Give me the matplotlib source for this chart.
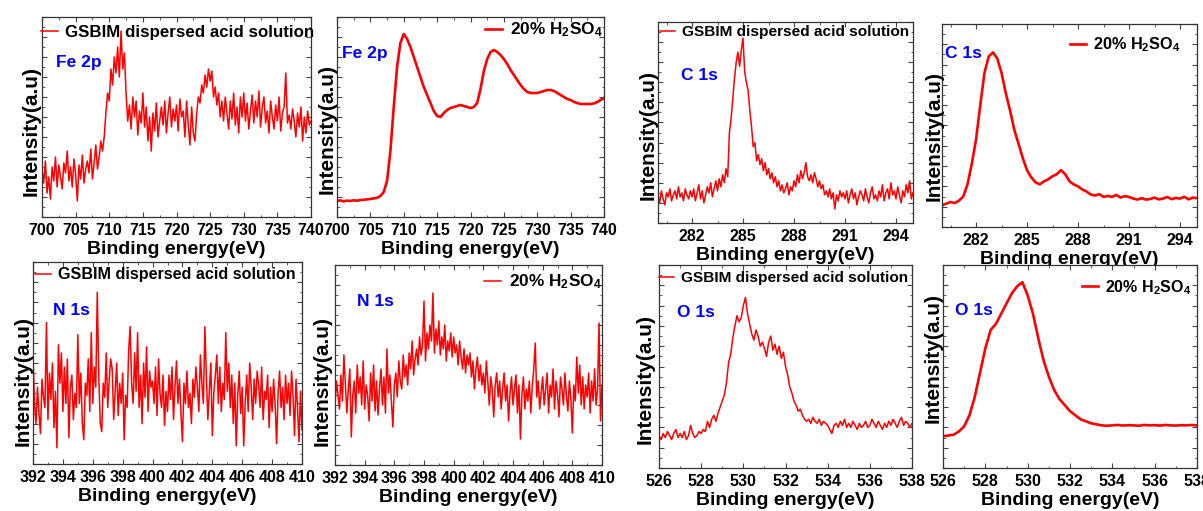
import matplotlib.pyplot as plt
import numpy as np
from matplotlib.ticker import MultipleLocator, NullFormatter

plt.rcParams['font.family'] = ['Liberation Sans', 'DejaVu Sans']
plt.rcParams['font.weight'] = 'bold'
plt.rcParams['mathtext.fontset'] = 'custom'
plt.rcParams['mathtext.rm'] = 'Liberation Sans:bold'
plt.rcParams['mathtext.it'] = 'Liberation Sans:bold'
plt.rcParams['mathtext.bf'] = 'Liberation Sans:bold'

# Fe 2p, GSBIM dispersed acid solution (0.25 eV steps, 700-740)
fe_gsbim = [24, 17, 28, 12, 20, 9, 25, 18, 30, 15, 26, 20, 14, 27, 22, 33,
            18, 25, 15, 29, 21, 8, 26, 19, 31, 17, 24, 28, 22, 34, 19, 27,
            36, 24, 30, 38, 33, 40, 52, 62, 58, 74, 66, 80, 72, 85, 70, 93,
            74, 82, 62, 48, 56, 44, 60, 50, 58, 41, 53, 47, 62, 45, 55, 38,
            50, 33, 52, 43, 57, 40, 48, 55, 46, 58, 42, 52, 60, 45, 54, 48,
            56, 43, 59, 50, 53, 40, 58, 46, 36, 55, 42, 38, 52, 60, 57, 66,
            62, 71, 65, 74, 68, 73, 60, 65, 56, 62, 50, 58, 48, 60, 52, 44,
            58, 49, 62, 46, 55, 42, 60, 50, 62, 48, 57, 44, 53, 61, 47, 58,
            50, 63, 45, 55, 60, 47, 53, 42, 58, 50, 44, 56, 48, 60, 43, 52,
            55, 72, 47, 51, 44, 54, 48, 40, 52, 45, 55, 38, 50, 42, 53, 46, 48]

# Fe 2p, 20% H2SO4 (0.5 eV steps, 700-740)
fe_acid = [8.0, 8.3, 7.8, 8.2, 8.0, 8.4, 8.1, 8.5, 8.6, 8.8, 9.0, 9.3, 9.6, 10.5,
           12.5, 18, 33, 55, 75, 87, 91.5, 89, 85, 80, 75, 70, 65, 61, 57, 53,
           50.5, 50, 52, 53.5, 54.5, 55, 55.5, 56, 55.5, 55, 54.5, 55, 57, 64,
           73, 79, 82.5, 83.5, 82.5, 81, 79, 76.5, 73.5, 71, 68.5, 66, 64, 62.5,
           62, 62, 62, 62.5, 63, 63.5, 63.5, 63, 62, 61, 60, 59, 58.5, 57.5,
           57, 56.5, 56.5, 56.5, 56.5, 56.8, 57.5, 58.5, 59.5]

# C 1s, GSBIM (0.1 eV steps, 280-295)
c_gsbim = [14, 10, 16, 12, 9, 15, 13, 17, 11, 14,
           16, 12, 18, 13, 15, 11, 17, 14, 12, 16,
           13, 17, 11, 15, 19, 12, 16, 10, 14, 18,
           15, 20, 13, 17, 21, 16, 22, 18, 24, 20,
           27, 23, 45, 52, 62, 72, 80, 85, 78, 86,
           92, 75, 70, 66, 56, 48, 38, 40, 31, 34,
           29, 32, 26, 30, 24, 27, 22, 25, 20, 23,
           18, 21, 16, 19, 15, 17, 20, 14, 18, 16,
           21, 18, 24, 20, 26, 22, 25, 30, 23, 21,
           24, 20, 25, 22, 18, 21, 17, 19, 14, 16,
           13, 17, 12, 15, 7, 14, 11, 16, 13, 15,
           12, 16, 10, 14, 17, 12, 15, 9, 13, 16,
           14, 11, 17, 13, 10, 15, 18, 12, 14, 11,
           16, 13, 19, 11, 15, 17, 12, 20, 14, 16,
           12, 18, 14, 10, 16, 13, 19, 15, 21, 12, 15]

# C 1s, 20% H2SO4 (0.25 eV steps, 280-295)
c_acid = [10.7, 11.5, 12.3, 11.8, 13, 15, 21, 31, 43, 60, 76, 84, 86, 83, 76,
          66, 57.5, 48, 41, 34, 28, 24.5, 22, 21, 22.5, 23.5, 25, 26, 28, 26,
          22.5, 21, 20, 18.5, 17.5, 16, 15.5, 16.2, 14.8, 15.3, 14.8, 15.8,
          14.5, 15.2, 14.8, 14, 13.5, 14.2, 13.5, 13.8, 14.5, 13.6, 14, 14.8,
          13.7, 14.3, 14, 14.9, 13.6, 14.5, 14.2]

# N 1s, GSBIM (0.1 eV steps, 392-410)
n_gsbim = [54, 30, 20, 38, 25, 15, 42, 33, 28, 70,
           22, 45, 32, 50, 18, 36, 8, 59, 40, 55,
           26, 48, 30, 52, 13, 38, 44, 22, 35, 28,
           64, 30, 45, 20, 12, 40, 34, 52, 26, 65,
           30, 48, 38, 85, 44, 20, 16, 40, 33, 55,
           28, 42, 52, 47, 22, 36, 50, 24, 40, 30,
           45, 12, 34, 28, 56, 68, 40, 30, 55, 36,
           65, 28, 44, 20, 50, 33, 58, 26, 46, 38,
           41, 30, 48, 24, 52, 35, 28, 44, 19, 36,
           26, 44, 32, 48, 22, 38, 51, 30, 42, 25,
           11, 40, 30, 46, 28, 35, 20, 42, 33, 48,
           38, 26, 54, 40, 30, 68, 44, 22, 36, 50,
           14, 35, 44, 54, 30, 48, 26, 40, 32, 65,
           36, 50, 28, 44, 20, 40, 9, 34, 46, 25,
           38, 9, 30, 44, 26, 50, 38, 22, 42, 30,
           46, 39, 28, 48, 22, 36, 32, 44, 18, 38,
           26, 42, 30, 10, 35, 46, 28, 38, 22, 44,
           30, 40, 24, 46, 34, 14, 42, 28, 11, 36, 17]

# N 1s, 20% H2SO4 (0.1 eV steps, 392-410)
n_acid = [30, 42, 35, 28, 45, 32, 55, 40, 26, 38,
          48, 14, 35, 42, 26, 50, 36, 44, 30, 52,
          28, 40, 35, 22, 46, 32, 50, 27, 42, 25,
          38, 48, 30, 44, 26, 58, 36, 45, 32, 19,
          40, 46, 34, 52, 42, 38, 55, 44, 50, 40,
          56, 48, 62, 45, 53, 58, 50, 64, 55, 60,
          82, 52, 66, 58, 70, 62, 86, 56, 68, 60,
          72, 55, 64, 58, 70, 52, 62, 57, 66, 54,
          64, 56, 60, 50, 62, 54, 48, 58, 46, 55,
          50, 56, 44, 52, 38, 48, 54, 42, 50, 40,
          46, 36, 52, 42, 30, 44, 38, 24, 40, 46,
          34, 42, 28, 38, 46, 32, 40, 22, 36, 44,
          30, 38, 45, 26, 40, 13, 35, 44, 28, 38,
          32, 42, 26, 40, 48, 61, 34, 42, 28, 36,
          44, 30, 38, 46, 26, 40, 34, 48, 28, 42,
          36, 24, 44, 38, 30, 46, 35, 27, 42, 33,
          16, 40, 32, 54, 36, 50, 30, 44, 28, 40,
          34, 46, 26, 42, 32, 48, 30, 38, 71, 22, 40]

# O 1s, GSBIM (0.1 eV steps, 526-538)
o_gsbim = [16, 14, 17, 15, 18, 16, 14, 17, 19, 15,
           17, 15, 18, 14, 16, 21, 17, 15, 16, 18,
           17, 19, 18, 23, 20, 24, 26, 23, 27, 30,
           33, 36, 42, 52, 56, 64, 70, 75, 72, 74,
           80, 84, 76, 71, 66, 63, 68, 65, 60, 62,
           59, 55, 62, 65, 58, 61, 56, 60, 54, 57,
           50, 46, 40, 37, 33, 31, 28, 29, 26, 24,
           23, 24, 22, 25, 23, 22, 24, 21, 23, 22,
           21, 19, 17, 21, 22, 20, 23, 21, 24, 20,
           22, 20, 23, 21, 19, 22, 20, 21, 23, 20,
           21, 24, 22, 20, 23, 21, 19, 22, 20, 23,
           21, 24, 22, 20, 23, 25, 21, 23, 22, 20, 22]

# O 1s, 20% H2SO4 (0.25 eV steps, 526-538)
o_acid = [15.6, 16, 16.4, 18, 20.5, 26, 35, 47, 59, 68, 71, 76, 81, 86, 89.5,
          91.5, 85, 76, 64, 53, 45, 38.5, 34, 31, 28, 26, 24, 23, 22, 21.5, 21,
          20.8, 21, 21.2, 20.9, 21.1, 21, 20.8, 21.2, 21, 21.1, 20.9, 21.2, 21,
          20.9, 21.1, 21, 21.2, 21]

lab_gsbim = 'GSBIM dispersed acid solution'
lab_acid = '20% H$_2$SO$_4$'

# panel: data, x range, x ticks, element, legend text
panels = [
    (fe_gsbim, (700, 740), [700, 705, 710, 715, 720, 725, 730, 735, 740], 'Fe 2p', lab_gsbim),
    (fe_acid, (700, 740), [700, 705, 710, 715, 720, 725, 730, 735, 740], 'Fe 2p', lab_acid),
    (c_gsbim, (280, 295), [282, 285, 288, 291, 294], 'C 1s', lab_gsbim),
    (c_acid, (280, 295), [282, 285, 288, 291, 294], 'C 1s', lab_acid),
    (n_gsbim, (392, 410), list(range(392, 411, 2)), 'N 1s', lab_gsbim),
    (n_acid, (392, 410), list(range(392, 411, 2)), 'N 1s', lab_acid),
    (o_gsbim, (526, 538), list(range(526, 539, 2)), 'O 1s', lab_gsbim),
    (o_acid, (526, 538), list(range(526, 539, 2)), 'O 1s', lab_acid),
]

# axes boxes in pixels: left, top, right, bottom
boxes = [(42, 17, 311, 217), (337, 17, 604, 217), (658, 22, 913, 223), (942, 24, 1197, 227),
         (33, 262, 302, 464), (335, 265, 602, 465), (659, 265, 912, 468), (943, 265, 1197, 468)]
# legend anchor (axes coords), fontsize
leg_pos = [(-0.005, 0.925, 12.2), (0.554, 0.935, 12.4), (0.006, 0.95, 11.1), (0.50, 0.897, 11.7),
           (0.007, 0.936, 11.6), (0.558, 0.915, 12.4), (0.0, 0.936, 11.1), (0.547, 0.89, 11.5)]
elem_pos = [(0.052, 0.775), (0.019, 0.82), (0.09, 0.736), (0.012, 0.857),
            (0.074, 0.762), (0.082, 0.82), (0.071, 0.768), (0.047, 0.778)]
ylab_pos = [(-0.04, 0.43), (-0.037, 0.44), (-0.04, 0.44), (-0.03, 0.45),
            (-0.037, 0.41), (-0.049, 0.42), (-0.055, 0.44), (-0.04, 0.54)]

W, H = 1203, 511
fig = plt.figure(figsize=(W / 100, H / 100), dpi=100)

for i, (y, (x0, x1), ticks, elem, lab) in enumerate(panels):
    l, t, r, b = boxes[i]
    ax = fig.add_axes([l / W, (H - b) / H, (r - l) / W, (b - t) / H])
    x = np.linspace(x0, x1, len(y))
    smooth = lab == lab_acid and elem != 'N 1s'
    ax.plot(x, y, color='#ff0000', lw=1.9 if smooth else 1.1, label=lab)
    ax.set_xlim(x0, x1)
    ax.set_ylim(0, 100)
    ax.set_xticks(ticks)
    ax.xaxis.set_minor_locator(MultipleLocator((ticks[1] - ticks[0]) / 2))
    ax.yaxis.set_major_locator(MultipleLocator(10))
    ax.yaxis.set_minor_locator(MultipleLocator(5))
    ax.yaxis.set_major_formatter(NullFormatter())
    ax.tick_params(which='both', direction='in', top=True, right=True, labelsize=11.5, pad=4,
                   color='#444444')
    ax.tick_params(which='major', length=3.5, width=0.8)
    ax.tick_params(which='minor', length=1.8, width=0.6)
    for lbl in ax.get_xticklabels():
        lbl.set_fontweight('bold')
    for s in ax.spines.values():
        s.set_color('#333333')
        s.set_linewidth(0.9)
    ax.set_xlabel('Binding energy(eV)', fontsize=14, fontweight='bold', labelpad=2.5)
    ax.text(ylab_pos[i][0], ylab_pos[i][1], 'Intensity(a.u)', transform=ax.transAxes,
            rotation=90, ha='center', va='center', fontsize=15, fontweight='bold')
    ax.text(elem_pos[i][0], elem_pos[i][1], elem, transform=ax.transAxes, color='#0000ff',
            ha='left', va='center', fontsize=12.5, fontweight='bold')
    lx, ly, fs = leg_pos[i]
    ax.legend(loc='center left', bbox_to_anchor=(lx, ly), frameon=False, borderpad=0,
              borderaxespad=0, handlelength=1.0, handletextpad=0.45,
              prop={'size': fs, 'weight': 'bold'})

fig.savefig('out.png', dpi=100)
